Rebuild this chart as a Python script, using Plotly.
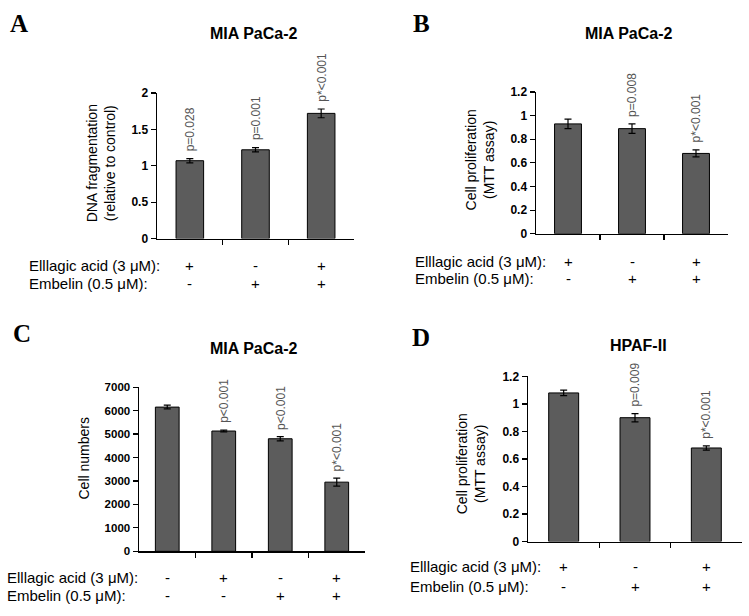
import plotly.graph_objects as go

W, H = 749, 616

# ---------------- data ----------------
a_title = "MIA PaCa-2"
a_vals = [1.07, 1.22, 1.72]
a_err = [0.03, 0.03, 0.06]
a_pvals = ["p=0.028", "p=0.001", "p*&lt;0.001"]
a_ellagic = ["+", "-", "+"]
a_embelin = ["-", "+", "+"]
a_ytitle = "DNA fragmentation<br>(relative to control)"

b_title = "MIA PaCa-2"
b_vals = [0.93, 0.89, 0.68]
b_err = [0.04, 0.04, 0.03]
b_pvals = ["", "p=0.008", "p*&lt;0.001"]
b_ellagic = ["+", "-", "+"]
b_embelin = ["-", "+", "+"]
b_ytitle = "Cell proliferation<br>(MTT assay)"

c_title = "MIA PaCa-2"
c_vals = [6150, 5130, 4800, 2950]
c_err = [80, 40, 90, 170]
c_pvals = ["", "p&lt;0.001", "p&lt;0.001", "p*&lt;0.001"]
c_ellagic = ["-", "+", "-", "+"]
c_embelin = ["-", "-", "+", "+"]
c_ytitle = "Cell numbers"

d_title = "HPAF-II"
d_vals = [1.08, 0.90, 0.68]
d_err = [0.02, 0.03, 0.015]
d_pvals = ["", "p=0.009", "p*&lt;0.001"]
d_ellagic = ["+", "-", "+"]
d_embelin = ["-", "+", "+"]
d_ytitle = "Cell proliferation<br>(MTT assay)"

row_labels = ["Elllagic acid (3 \u03bcM):", "Embelin (0.5 \u03bcM):"]

# ---------------- layout geometry (pixels) ----------------
panels = [
    dict(letter="A", title=a_title, vals=a_vals, err=a_err, p=a_pvals, r1=a_ellagic, r2=a_embelin,
         ytitle=a_ytitle, ymax=2, dtick=0.5,
         x0=157, x1=354, ytop=88, ybot=237, lx=19, ly=17, tx=254, ty=27,
         ytx=101, yty=160, rowy=(264, 283), rowx=27, tick=12),
    dict(letter="B", title=b_title, vals=b_vals, err=b_err, p=b_pvals, r1=b_ellagic, r2=b_embelin,
         ytitle=b_ytitle, ymax=1.2, dtick=0.2,
         x0=536, x1=728, ytop=87, ybot=232, lx=421, ly=17, tx=629, ty=27,
         ytx=480, yty=157, rowy=(260, 278), rowx=413, tick=12),
    dict(letter="C", title=c_title, vals=c_vals, err=c_err, p=c_pvals, r1=c_ellagic, r2=c_embelin,
         ytitle=c_ytitle, ymax=7000, dtick=1000,
         x0=139, x1=365, ytop=389, ybot=557, lx=22, ly=334, tx=254, ty=349,
         ytx=83, yty=462, rowy=(584, 602), rowx=5, tick=11.5),
    dict(letter="D", title=d_title, vals=d_vals, err=d_err, p=d_pvals, r1=d_ellagic, r2=d_embelin,
         ytitle=d_ytitle, ymax=1.2, dtick=0.2,
         x0=528, x1=742, ytop=378, ybot=547, lx=421, ly=338, tx=638, ty=346,
         ytx=471, yty=468, rowy=(573, 593), rowx=408, tick=12),
]

FONT = "Liberation Sans, Arial, sans-serif"
SERIF = "Liberation Serif, Times New Roman, serif"

def px(x):
    return x / W

def py(y):
    return 1 - y / H

fig = go.Figure()
annotations = []
layout = {}

for i, pn in enumerate(panels, start=1):
    n = len(pn["vals"])
    xs = list(range(n))
    xa = "x" if i == 1 else f"x{i}"
    ya = "y" if i == 1 else f"y{i}"
    fig.add_trace(go.Bar(
        x=xs, y=pn["vals"], width=0.42,
        marker=dict(color="#5c5c5c", line=dict(color="black", width=1)),
        error_y=dict(type="data", array=pn["err"], color="black", thickness=1.2, width=3.5),
        xaxis=xa, yaxis=ya, showlegend=False, hoverinfo="skip",
    ))
    layout["xaxis" if i == 1 else f"xaxis{i}"] = dict(
        domain=[px(pn["x0"]), px(pn["x1"])], anchor=ya, range=[-0.5, n - 0.5],
        tickvals=[k + 0.5 for k in range(n - 1)], showticklabels=False,
        ticks="outside", ticklen=5, tickwidth=1.2, tickcolor="black",
        showline=True, linecolor="black", linewidth=1.5, showgrid=False, zeroline=False,
        fixedrange=True,
    )
    layout["yaxis" if i == 1 else f"yaxis{i}"] = dict(
        domain=[py(pn["ybot"]), py(pn["ytop"])], anchor=xa, range=[0, pn["ymax"]],
        dtick=pn["dtick"], tick0=0, tickformat="d" if pn["ymax"] > 100 else "",
        ticks="outside", ticklen=5, tickwidth=1.2, tickcolor="black",
        tickfont=dict(family=FONT, size=pn["tick"], color="black", weight="bold"),
        showline=True, linecolor="black", linewidth=1.5, showgrid=False, zeroline=False,
        fixedrange=True,
    )
    # p-values
    for k, t in enumerate(pn["p"]):
        if t:
            annotations.append(dict(
                x=k, y=pn["vals"][k] + pn["err"][k], xref=xa, yref=ya, text=t,
                textangle=-90, xanchor="center", yanchor="bottom", yshift=5,
                showarrow=False, font=dict(family=FONT, size=12, color="#555555"),
            ))
    # panel letter
    annotations.append(dict(
        x=px(pn["lx"]), y=py(pn["ly"]), xref="paper", yref="paper", text=pn["letter"],
        xanchor="center", yanchor="middle", showarrow=False,
        font=dict(family=SERIF, size=25, color="black", weight="bold"),
    ))
    # title
    annotations.append(dict(
        x=px(pn["tx"]), y=py(pn["ty"]), xref="paper", yref="paper", text=pn["title"],
        xanchor="center", yanchor="middle", showarrow=False,
        font=dict(family=FONT, size=16, color="black", weight="bold"),
    ))
    # y title
    annotations.append(dict(
        x=px(pn["ytx"]), y=py(pn["yty"]), xref="paper", yref="paper", text=pn["ytitle"],
        textangle=-90, xanchor="center", yanchor="middle", showarrow=False,
        font=dict(family=FONT, size=14, color="black"),
    ))
    # treatment rows
    for r, (lab, vals) in enumerate(zip(row_labels, [pn["r1"], pn["r2"]])):
        yy = py(pn["rowy"][r])
        annotations.append(dict(
            x=px(pn["rowx"]), y=yy, xref="paper", yref="paper", text=lab,
            xanchor="left", yanchor="middle", showarrow=False,
            font=dict(family=FONT, size=15, color="black"),
        ))
        for k, s in enumerate(vals):
            annotations.append(dict(
                x=k, y=yy, xref=xa, yref="paper", text=s,
                xanchor="center", yanchor="middle", showarrow=False,
                font=dict(family=FONT, size=15, color="black"),
            ))

fig.update_layout(
    width=W, height=H, margin=dict(l=0, r=0, t=0, b=0),
    paper_bgcolor="white", plot_bgcolor="white",
    annotations=annotations, bargap=0.5, hovermode=False,
    **layout,
)

fig.write_html(
    "out.html",
    config={"displayModeBar": False, "staticPlot": True},
    post_script="document.body.style.margin='0';document.body.style.padding='0';"
                "document.documentElement.style.overflow='hidden';",
)
